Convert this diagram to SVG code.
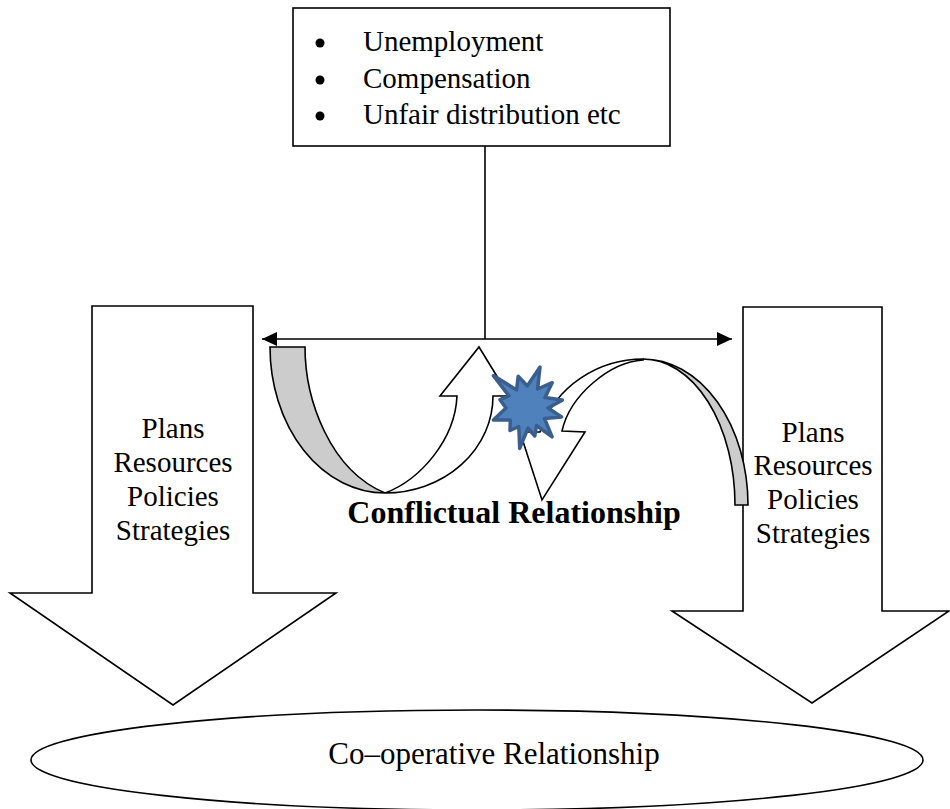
<svg xmlns="http://www.w3.org/2000/svg" width="950" height="809" viewBox="0 0 950 809">
  <style>
    .shape { fill: #ffffff; stroke: #000000; stroke-width: 1.6; stroke-linejoin: miter; }
    .band { fill: #cccccc; stroke: #000000; stroke-width: 1.6; }
    .line { fill: none; stroke: #000000; stroke-width: 1.6; }
    .txt { font-family: "Liberation Serif", "Times New Roman", serif; font-size: 29px; fill: #000000; }
    .mid { text-anchor: middle; }
    .bold { font-weight: bold; font-size: 32px; }
    .burst { fill: #4f81bd; stroke: #3a5f8e; stroke-width: 3.5; stroke-linejoin: round; }
  </style>
  <defs>
    <marker id="head" viewBox="0 0 15 14" refX="15" refY="7" markerWidth="15" markerHeight="14" markerUnits="userSpaceOnUse" orient="auto-start-reverse">
      <path d="M0,0 L15,7 L0,14 Z" fill="#000000"/>
    </marker>
  </defs>
  <rect width="950" height="809" fill="#ffffff"/>

  <!-- left down arrow -->
  <g id="left-arrow">
    <polygon class="shape" points="92,306 253,306 253,593 336,593 173,705 10,593 92,593"/>
    <text class="txt mid" x="173" y="438">Plans</text>
    <text class="txt mid" x="173" y="472">Resources</text>
    <text class="txt mid" x="173" y="506">Policies</text>
    <text class="txt mid" x="173" y="540">Strategies</text>
  </g>

  <!-- right down arrow -->
  <g id="right-arrow">
    <polygon class="shape" points="743,307 882,307 882,611 949,611 812,703 672,611 743,611"/>
    <text class="txt mid" x="813" y="442">Plans</text>
    <text class="txt mid" x="813" y="475">Resources</text>
    <text class="txt mid" x="813" y="509">Policies</text>
    <text class="txt mid" x="813" y="543">Strategies</text>
  </g>

  <!-- co-operative ellipse -->
  <g id="cooperative">
    <ellipse class="shape" cx="477" cy="760" rx="446" ry="50"/>
    <text class="txt mid" x="494" y="764" style="font-size:31px">Co–operative Relationship</text>
  </g>

  <!-- issues box -->
  <g id="issues">
    <rect class="shape" x="293" y="8" width="377" height="138"/>
    <circle cx="320" cy="43" r="4.5" fill="#000000"/>
    <circle cx="320" cy="80" r="4.5" fill="#000000"/>
    <circle cx="320" cy="116" r="4.5" fill="#000000"/>
    <text class="txt" x="363" y="51">Unemployment</text>
    <text class="txt" x="363" y="88">Compensation</text>
    <text class="txt" x="363" y="124">Unfair distribution etc</text>
  </g>

  <!-- connectors -->
  <g id="connectors">
    <line class="line" x1="485" y1="146" x2="485" y2="339"/>
    <line class="line" x1="262" y1="339" x2="732" y2="339" marker-start="url(#head)" marker-end="url(#head)"/>
  </g>

  <!-- curved arrow, left: sweeps down and back up -->
  <g id="curve-up">
    <path class="band" d="M270,347 L305,347 C305,400 330,470 385,493 A115,146 0 0 1 270,347 Z"/>
    <path class="shape" d="M385,493 A108,97 0 0 0 493,396 L509,396 L479,347 L440,396 L457,396 C455,440 420,480 385,493 Z"/>
  </g>

  <!-- curved arrow, right: arcs over and points down -->
  <g id="curve-down">
    <path class="band" d="M643,359 A105,146 0 0 1 748,505 L735,505 A92,146 0 0 0 643,359 Z"/>
    <path class="shape" d="M643,359 C600,359 555,385 540,432 L520,432 L542,500 L585,432 L562,431 C570,395 610,362 643,360 Z"/>
  </g>

  <!-- clash burst -->
  <g id="clash">
    <polygon class="burst" points="493.4,375.6 516.6,389.9 518.2,376.2 527.3,386 540,367.1 537.6,389 552.2,382.7 545,397.5 562.3,400.1 548,408 561.6,416.9 544.5,418.5 552.1,436.9 536.5,425.5 534.8,436 528,428 519.7,448.4 518.8,426.5 510,430.5 510.3,420 493.4,419.9 506,408 500,399.7 509,396"/>
  </g>

  <g id="conflict-label">
    <text class="txt mid bold" x="514" y="523">Conflictual Relationship</text>
  </g>
</svg>
